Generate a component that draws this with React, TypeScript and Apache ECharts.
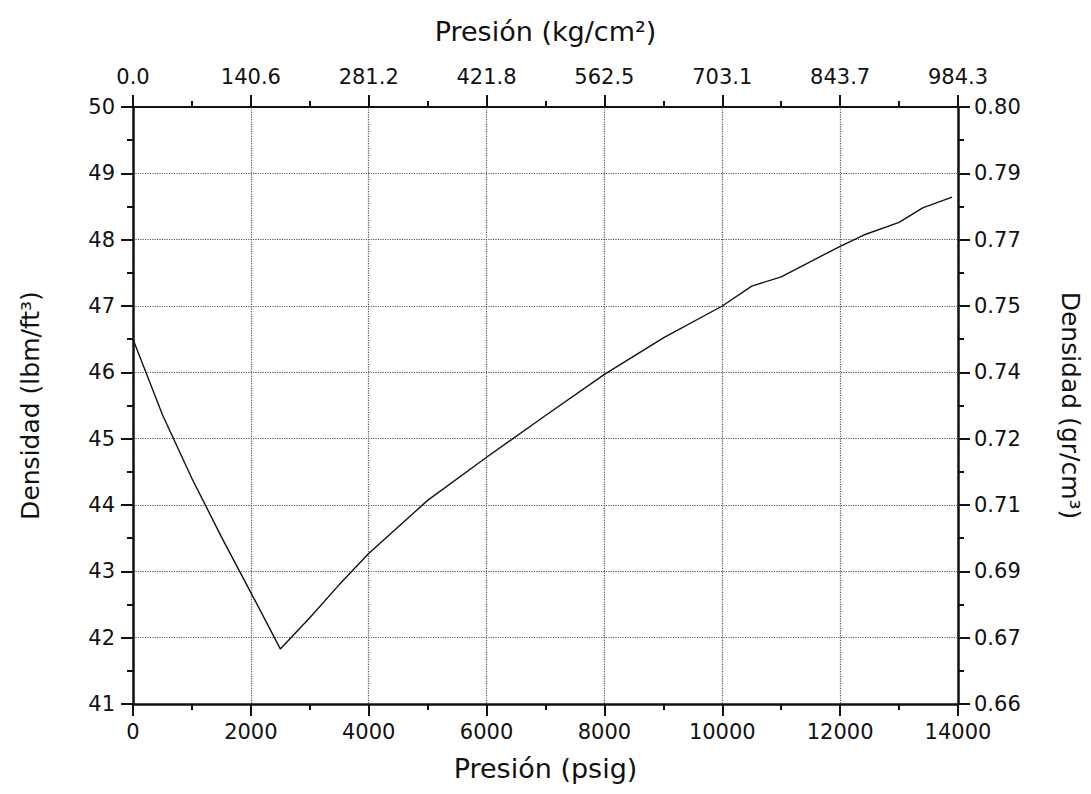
import React, { useEffect, useRef } from "react";
import * as echarts from "echarts";

const pressurePsig = [0, 500, 1000, 1500, 2000, 2500, 3000, 3500, 4000, 5000, 6000, 7000, 8000, 9000, 10000, 10500, 11000, 12000, 12400, 13000, 13400, 13900];
const densityLbmFt3 = [46.5, 45.36, 44.4, 43.52, 42.68, 41.83, 42.3, 42.8, 43.27, 44.07, 44.72, 45.35, 45.97, 46.52, 47.0, 47.3, 47.44, 47.9, 48.07, 48.26, 48.48, 48.64];
const topTickLabels = ["0.0", "140.6", "281.2", "421.8", "562.5", "703.1", "843.7", "984.3"];
const rightTickLabels = ["0.66", "0.67", "0.69", "0.71", "0.72", "0.74", "0.75", "0.77", "0.79", "0.80"];

const FONT = "DejaVu Sans";
const INK = "#111";

export default function App() {
  const ref = useRef<HTMLDivElement>(null);
  useEffect(() => {
    if (!ref.current) return;
    const chart = echarts.init(ref.current, null, { renderer: "svg" });
    const axisLine = (w: number) => ({ show: true, onZero: false, lineStyle: { color: INK, width: w } });
    const tick = { show: true, inside: false, length: 12, lineStyle: { color: INK, width: 2 } };
    const minor = { show: true, splitNumber: 2, length: 6, lineStyle: { color: INK, width: 2 } };
    const label = (margin: number) => ({
      show: true,
      margin,
      color: INK,
      fontFamily: FONT,
      fontSize: 21,
      showMinLabel: true,
      showMaxLabel: true,
    });
    const nameStyle = (size: number) => ({ color: INK, fontFamily: FONT, fontSize: size });
    chart.setOption({
      animation: false,
      backgroundColor: "#fff",
      grid: { left: 133, right: 133, top: 107, bottom: 90, containLabel: false },
      xAxis: [
        {
          type: "value",
          position: "bottom",
          min: 0,
          max: 14000,
          interval: 2000,
          name: "Presión (psig)",
          nameLocation: "middle",
          nameGap: 51,
          nameTextStyle: nameStyle(27),
          axisLine: axisLine(2.5),
          axisTick: tick,
          minorTick: minor,
          axisLabel: { ...label(17), formatter: (v: number) => String(v) },
          splitLine: { show: true, lineStyle: { type: "dotted", color: "#555", width: 1.2 } },
        },
        {
          type: "value",
          position: "top",
          min: 0,
          max: 14000,
          interval: 2000,
          name: "Presión (kg/cm²)",
          nameLocation: "middle",
          nameGap: 62,
          nameTextStyle: nameStyle(27),
          axisLine: axisLine(1.8),
          axisTick: tick,
          minorTick: minor,
          axisLabel: { ...label(20), formatter: (v: number) => topTickLabels[Math.round(v / 2000)] ?? "" },
          splitLine: { show: false },
        },
      ],
      yAxis: [
        {
          type: "value",
          position: "left",
          min: 41,
          max: 50,
          interval: 1,
          name: "Densidad (lbm/ft³)",
          nameLocation: "middle",
          nameGap: 90,
          nameRotate: 90,
          nameTextStyle: nameStyle(25),
          axisLine: axisLine(2.5),
          axisTick: tick,
          minorTick: minor,
          axisLabel: { ...label(18), formatter: (v: number) => String(v) },
          splitLine: { show: true, lineStyle: { type: "dotted", color: "#555", width: 1.2 } },
        },
        {
          type: "value",
          position: "right",
          min: 41,
          max: 50,
          interval: 1,
          name: "Densidad (gr/cm³)",
          nameLocation: "middle",
          nameGap: 100,
          nameRotate: -90,
          nameTextStyle: nameStyle(25),
          axisLine: axisLine(2.5),
          axisTick: tick,
          minorTick: minor,
          axisLabel: { ...label(16), formatter: (v: number) => rightTickLabels[Math.round(v - 41)] ?? "" },
          splitLine: { show: false },
        },
      ],
      series: [
        {
          type: "line",
          xAxisIndex: 0,
          yAxisIndex: 0,
          data: pressurePsig.map((p, i) => [p, densityLbmFt3[i]]),
          showSymbol: false,
          symbol: "none",
          lineStyle: { color: INK, width: 1.4 },
          z: 5,
        },
      ],
    });
    return () => chart.dispose();
  }, []);
  return (
    <div
      ref={ref}
      style={{ position: "fixed", left: 0, top: 0, width: 1091, height: 794, background: "#fff" }}
    />
  );
}
